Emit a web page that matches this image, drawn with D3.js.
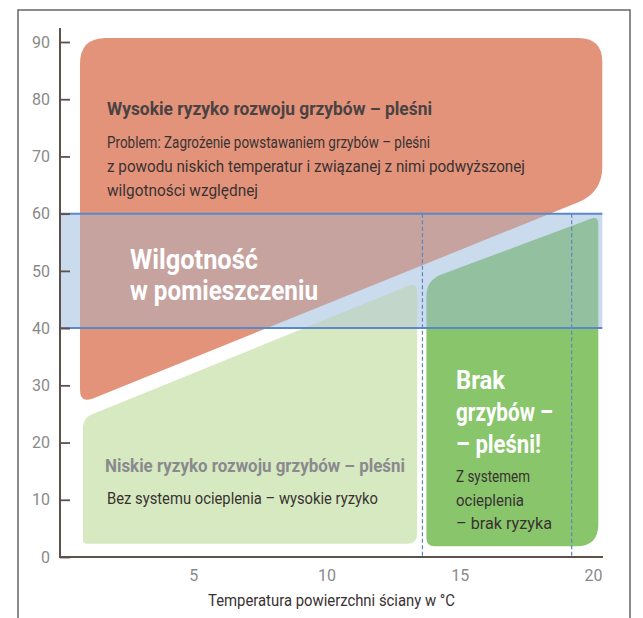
<!DOCTYPE html>
<html><head><meta charset="utf-8">
<script src="https://cdn.jsdelivr.net/npm/d3@7"></script>
<style>
html,body{margin:0;padding:0;background:#fff;}
svg{display:block;}
text{font-family:Roboto,"Liberation Sans",sans-serif;}
</style></head><body>
<svg id="c" width="643" height="618"></svg>
<script>
// ---------- data ----------
const yTicks = [0,10,20,30,40,50,60,70,80,90];
const xTicks = [5,10,15,20];
// region outlines in data units [temperature °C, humidity %]
const highRisk = [[0.75,90.7],[20.35,90.7],[20.35,63.7],[0.75,26.8]];
const lowRisk  = [[0.86,2.3],[13.4,2.3],[13.4,48.0],[0.86,24.3]];
const noRisk   = [[13.75,1.9],[20.2,1.9],[20.2,59.6],[13.75,48.4]];
const roomHumidity = [40,60];
const bandTemp = [0,20.35];
const dashedTemps = [13.6,19.2];
const xLabel = "Temperatura powierzchni ściany w °C";

// ---------- layout ----------
const svg = d3.select("#c");
const x = d3.scaleLinear().domain([0,20]).range([60,593]);
const y = d3.scaleLinear().domain([0,90]).range([557,42]);

function roundedPath(pts, radii){
  const P = pts.map(d=>[x(d[0]),y(d[1])]);
  const n = P.length; let s = "";
  for(let i=0;i<n;i++){
    const p0=P[(i-1+n)%n], p=P[i], p1=P[(i+1)%n];
    const d0=Math.hypot(p0[0]-p[0],p0[1]-p[1]), d1=Math.hypot(p1[0]-p[0],p1[1]-p[1]);
    const r=Math.min(radii[i], d0/2, d1/2);
    const a=[p[0]+(p0[0]-p[0])*r/d0, p[1]+(p0[1]-p[1])*r/d0];
    const b=[p[0]+(p1[0]-p[0])*r/d1, p[1]+(p1[1]-p[1])*r/d1];
    s += (i===0?"M":"L")+a[0]+","+a[1]+"Q"+p[0]+","+p[1]+" "+b[0]+","+b[1];
  }
  return s+"Z";
}
const shapes = [
  {pts:highRisk, r:[26,24,26,14], fill:"#e2937a", band:"#c6a39f"},
  {pts:lowRisk,  r:[4,10,10,10],  fill:"#d6e9c0", band:"#c2d7c9"},
  {pts:noRisk,   r:[8,22,8,16],  fill:"#88c56b", band:"#93c09f"}
];

// frame
svg.append("path").attr("d","M18,618V10H630V618").attr("fill","none").attr("stroke","#666").attr("stroke-width",1.5);

// base shapes
svg.selectAll("path.reg").data(shapes).join("path").attr("class","reg")
  .attr("d",d=>roundedPath(d.pts,d.r)).attr("fill",d=>d.fill);

// humidity band
const bx0=x(bandTemp[0]), bx1=x(bandTemp[1]), by0=y(roomHumidity[1]), by1=y(roomHumidity[0]);
svg.append("defs").append("clipPath").attr("id","bandclip")
  .append("rect").attr("x",bx0).attr("y",by0).attr("width",bx1-bx0).attr("height",by1-by0);
svg.append("rect").attr("x",bx0).attr("y",by0).attr("width",bx1-bx0).attr("height",by1-by0).attr("fill","#c9dbec");
svg.append("g").attr("clip-path","url(#bandclip)")
  .selectAll("path").data(shapes).join("path")
  .attr("d",d=>roundedPath(d.pts,d.r)).attr("fill",d=>d.band);

// dashed verticals
svg.selectAll("line.dash").data(dashedTemps).join("line").attr("class","dash")
  .attr("x1",d=>x(d)).attr("x2",d=>x(d)).attr("y1",y(roomHumidity[1])).attr("y2",y(0))
  .attr("stroke","#5b86c2").attr("stroke-width",1.2).attr("stroke-dasharray","4,2.5");
// band lines
svg.selectAll("line.bl").data(roomHumidity).join("line").attr("class","bl")
  .attr("x1",bx0).attr("x2",bx1).attr("y1",d=>y(d)).attr("y2",d=>y(d))
  .attr("stroke","#5a88c8").attr("stroke-width",2);

// axes
const ya = svg.append("g").attr("transform","translate(60,0)")
  .call(d3.axisLeft(y).tickValues(yTicks).tickSize(-10).tickPadding(10).tickSizeOuter(0));
ya.select(".domain").remove();
ya.selectAll(".tick line").attr("stroke","#5e514c").attr("stroke-width",1.8);
ya.selectAll(".tick text").attr("fill","#8a8a8a").style("font-size","16px")
  .style("font-family","Roboto,sans-serif");
svg.append("line").attr("x1",60).attr("x2",60).attr("y1",28).attr("y2",558).attr("stroke","#5e514c").attr("stroke-width",2);

const xa = svg.append("g").attr("transform","translate(0,557)")
  .call(d3.axisBottom(x).tickValues(xTicks).tickSize(0).tickPadding(13).tickSizeOuter(0));
xa.select(".domain").remove();
xa.selectAll(".tick text").attr("fill","#8a8a8a").style("font-size","16px")
  .style("font-family","Roboto,sans-serif");
svg.append("line").attr("x1",59).attr("x2",603).attr("y1",557).attr("y2",557).attr("stroke","#5e514c").attr("stroke-width",2);

// texts
const texts = [
  {t:"Wysokie ryzyko rozwoju grzybów – pleśni", x:107, y:115, w:325, s:18.5, b:700, c:"#4a4242"},
  {t:"Problem: Zagrożenie powstawaniem grzybów – pleśni", x:107, y:148, w:323, s:16.5, b:400, c:"#3a3232"},
  {t:"z powodu niskich temperatur i związanej z nimi podwyższonej", x:107, y:172, w:418, s:16.5, b:400, c:"#3a3232"},
  {t:"wilgotności względnej", x:107, y:196, w:151, s:16.5, b:400, c:"#3a3232"},
  {t:"Wilgotność", x:130, y:269, w:128, s:27, b:700, c:"#ffffff"},
  {t:"w pomieszczeniu", x:130, y:300, w:188, s:27, b:700, c:"#ffffff"},
  {t:"Niskie ryzyko rozwoju grzybów – pleśni", x:105, y:472, w:300, s:18.5, b:700, c:"#8a8a8e"},
  {t:"Bez systemu ocieplenia – wysokie ryzyko", x:107, y:504, w:271, s:16.5, b:400, c:"#3a3232"},
  {t:"Brak", x:456, y:389, w:49, s:25, b:700, c:"#ffffff"},
  {t:"grzybów –", x:456, y:421, w:97, s:25, b:700, c:"#ffffff"},
  {t:"– pleśni!", x:456, y:453, w:85, s:25, b:700, c:"#ffffff"},
  {t:"Z systemem", x:456, y:482, w:74, s:16.5, b:400, c:"#3a3232"},
  {t:"ocieplenia", x:456, y:506, w:68, s:16.5, b:400, c:"#3a3232"},
  {t:"– brak ryzyka", x:456, y:529, w:96, s:16.5, b:400, c:"#3a3232"},
  {t:xLabel, x:208, y:606, w:247, s:16, b:400, c:"#3a3232"}
];
svg.selectAll("text.lbl").data(texts).join("text").attr("class","lbl")
  .attr("x",d=>d.x).attr("y",d=>d.y).attr("fill",d=>d.c)
  .style("font-size",d=>d.s+"px").style("font-weight",d=>d.b)
  .attr("textLength",d=>d.w).attr("lengthAdjust","spacingAndGlyphs")
  .text(d=>d.t);
</script>
</body></html>
